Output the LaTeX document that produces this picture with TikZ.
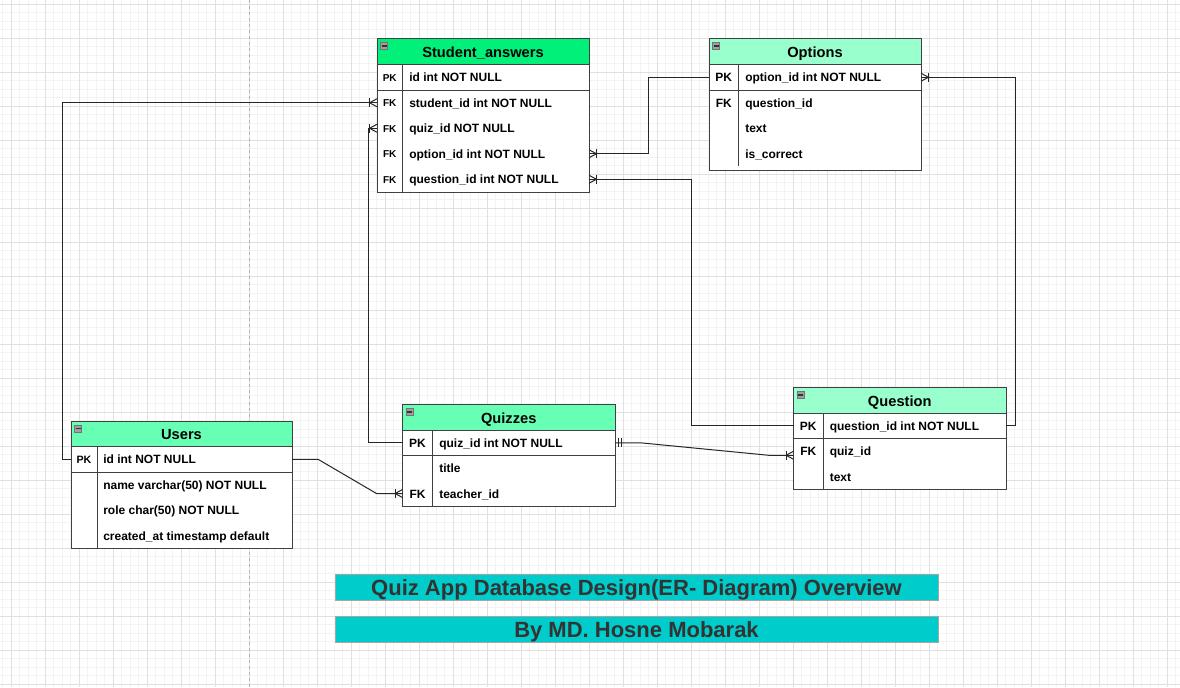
\documentclass[tikz,border=0pt]{standalone}
\usepackage{fontspec}
\setmainfont{Liberation Sans}
\usetikzlibrary{calc}
\newlength\px \setlength\px{0.75pt}
\definecolor{hdrA}{HTML}{00F07A}
\definecolor{hdrB}{HTML}{66FFB3}
\definecolor{hdrC}{HTML}{99FFCC}
\definecolor{bannerfill}{HTML}{00CCCC}
\definecolor{ink}{HTML}{333333}
\definecolor{gridminor}{HTML}{F3F3F3}
\definecolor{gridmajor}{HTML}{E0E0E0}
\definecolor{icongray}{HTML}{A0A0A0}
\tikzset{
  tframe/.style={draw=black!75, line width=0.75pt, fill=white, inner sep=0pt, outer sep=0pt, anchor=north west},
  thead/.style={draw=black!75, line width=0.75pt, inner sep=0pt, outer sep=0pt, anchor=north west,
    font=\fontsize{11}{13}\selectfont\bfseries, text=black, text height=12\px, text depth=0pt},
  trow/.style={inner sep=0pt, outer sep=0pt, anchor=west, minimum height=25.5\px},
  ftxt/.style={anchor=west, inner sep=0pt, font=\fontsize{9}{10}\selectfont\bfseries, text height=9\px, text depth=0pt},
  ktxt/.style={inner sep=0pt, font=\fontsize{9}{10}\selectfont\bfseries, text height=9\px, text depth=0pt},
  ksmall/.style={inner sep=0pt, font=\fontsize{7.5}{9}\selectfont\bfseries, text height=7.5\px, text depth=0pt},
  kmid/.style={inner sep=0pt, font=\fontsize{8}{9}\selectfont\bfseries, text height=8\px, text depth=0pt},
  tline/.style={draw=black!75, line width=0.75pt},
  conn/.style={draw=black!85, line width=0.75pt},
  bannerbox/.style={fill=bannerfill, draw=black!35, line width=0.75pt, inner sep=0pt, minimum width=603\px,
    font=\fontsize{16.5}{18}\selectfont\bfseries, text=ink, text height=16\px, text depth=0pt},
  minusicon/.pic={\filldraw[fill=icongray, draw=black!55, line width=0.45pt] (0,0) rectangle (7,7);
    \draw[black!80, line width=1.1pt] (1,3.5) -- (6,3.5);},
  crowin/.pic={\draw[conn] (-7.5,0) -- (0,-4) (-7.5,0) -- (0,4); \draw[conn] (-7.5,-4.5) -- (-7.5,4.5);},
  mandone/.pic={\draw[conn] (3,-4.5) -- (3,4.5) (6.5,-4.5) -- (6.5,4.5);}
}
\begin{document}
\begin{tikzpicture}[x=0.75pt,y=-0.75pt]
\useasboundingbox (0,0) rectangle (1180,687);
\fill[white] (0,0) rectangle (1180,687);
% grid
\foreach \i in {0,...,138} {\draw[gridminor, line width=0.6pt] ({2.5+8.5*\i},0) -- ++(0,687);}
\foreach \i in {0,...,80} {\draw[gridminor, line width=0.6pt] (0,{4+8.5*\i}) -- ++(1180,0);}
\foreach \i in {0,...,34} {\draw[gridmajor, line width=0.6pt] ({11+34*\i},0) -- ++(0,687);}
\foreach \i in {0,...,20} {\draw[gridmajor, line width=0.6pt] (0,{4+34*\i}) -- ++(1180,0);}
\draw[black!30, line width=0.75pt, dash pattern=on 3\px off 3\px] (249,0) -- (249,687);

% ---------- Student_answers ----------
\node[tframe, minimum width=212\px, minimum height=153.5\px] (sa) at (377,38.5) {};
\node[thead, fill=hdrA, minimum width=212\px, minimum height=26\px] (saH) at (sa.north west) {Student\_answers};
\pic at ($(saH.north west)+(3.5,4)$) {minusicon};
\draw[tline] (402.5,64.5) -- (402.5,192);
\draw[tline] (377,90) -- (589,90);
\node[trow, minimum width=212\px] (saR1) at (377,77.25) {};
\node[trow, minimum width=212\px] (saR2) at (377,102.75) {};
\node[trow, minimum width=212\px] (saR3) at (377,128.25) {};
\node[trow, minimum width=212\px] (saR4) at (377,153.75) {};
\node[trow, minimum width=212\px] (saR5) at (377,179.25) {};
\node[ksmall] (saK1) at (389.75,77.25) {PK};
\node[ksmall] (saK2) at (389.75,102.75) {FK};
\node[ksmall] (saK3) at (389.75,128.25) {FK};
\node[ksmall] (saK4) at (389.75,153.75) {FK};
\node[ksmall] (saK5) at (389.75,179.25) {FK};
\node[ftxt] (saF1) at (409,77.25) {id int NOT NULL};
\node[ftxt] (saF2) at (409,102.75) {student\_id int NOT NULL};
\node[ftxt] (saF3) at (409,128.25) {quiz\_id NOT NULL};
\node[ftxt] (saF4) at (409,153.75) {option\_id int NOT NULL};
\node[ftxt] (saF5) at (409,179.25) {question\_id int NOT NULL};

% ---------- Options ----------
\node[tframe, minimum width=212\px, minimum height=131.5\px] (op) at (709,38.5) {};
\node[thead, fill=hdrC, minimum width=212\px, minimum height=26\px] (opH) at (op.north west) {Options};
\pic at ($(opH.north west)+(3.5,4)$) {minusicon};
\draw[tline] (738.5,64.5) -- (738.5,166);
\draw[tline] (709,90) -- (921,90);
\node[trow, minimum width=212\px] (opR1) at (709,77.25) {};
\node[trow, minimum width=212\px] (opR2) at (709,102.75) {};
\node[trow, minimum width=212\px] (opR3) at (709,128.25) {};
\node[trow, minimum width=212\px] (opR4) at (709,153.75) {};
\node[ktxt] (opK1) at (723.75,77.25) {PK};
\node[ktxt] (opK2) at (723.75,102.75) {FK};
\node[ftxt] (opF1) at (745,77.25) {option\_id int NOT NULL};
\node[ftxt] (opF2) at (745,102.75) {question\_id};
\node[ftxt] (opF3) at (745,128.25) {text};
\node[ftxt] (opF4) at (745,153.75) {is\_correct};

% ---------- Users ----------
\node[tframe, minimum width=221\px, minimum height=127.5\px] (us) at (71,421) {};
\node[thead, fill=hdrB, minimum width=221\px, minimum height=25.5\px] (usH) at (us.north west) {Users};
\pic at ($(usH.north west)+(3.5,4)$) {minusicon};
\draw[tline] (97,446.5) -- (97,548.5);
\draw[tline] (71,472) -- (292,472);
\node[trow, minimum width=221\px] (usR1) at (71,459.25) {};
\node[trow, minimum width=221\px] (usR2) at (71,484.75) {};
\node[trow, minimum width=221\px] (usR3) at (71,510.25) {};
\node[trow, minimum width=221\px] (usR4) at (71,535.75) {};
\node[kmid] (usK1) at (84,459.25) {PK};
\node[ftxt] (usF1) at (103,459.25) {id int NOT NULL};
\node[ftxt] (usF2) at (103,484.75) {name varchar(50) NOT NULL};
\node[ftxt] (usF3) at (103,510.25) {role char(50) NOT NULL};
\node[ftxt] (usF4) at (103,535.75) {created\_at timestamp default};

% ---------- Quizzes ----------
\node[tframe, minimum width=212.5\px, minimum height=101.5\px] (qz) at (402.5,404.5) {};
\node[thead, fill=hdrB, minimum width=212.5\px, minimum height=25.5\px] (qzH) at (qz.north west) {Quizzes};
\pic at ($(qzH.north west)+(3.5,4)$) {minusicon};
\draw[tline] (432.5,430) -- (432.5,506);
\draw[tline] (402.5,455.5) -- (615,455.5);
\node[trow, minimum width=212.5\px] (qzR1) at (402.5,442.75) {};
\node[trow, minimum width=212.5\px] (qzR2) at (402.5,468.25) {};
\node[trow, minimum width=212.5\px] (qzR3) at (402.5,493.5) {};
\node[ktxt] (qzK1) at (417.5,442.75) {PK};
\node[ktxt] (qzK3) at (417.5,493.5) {FK};
\node[ftxt] (qzF1) at (439,442.75) {quiz\_id int NOT NULL};
\node[ftxt] (qzF2) at (439,468.25) {title};
\node[ftxt] (qzF3) at (439,493.5) {teacher\_id};

% ---------- Question ----------
\node[tframe, minimum width=212.5\px, minimum height=101.5\px] (qn) at (793.5,387.5) {};
\node[thead, fill=hdrC, minimum width=212.5\px, minimum height=25.5\px] (qnH) at (qn.north west) {Question};
\pic at ($(qnH.north west)+(3.5,4)$) {minusicon};
\draw[tline] (823,413) -- (823,489);
\draw[tline] (793.5,438.5) -- (1006,438.5);
\node[trow, minimum width=212.5\px] (qnR1) at (793.5,425.75) {};
\node[trow, minimum width=212.5\px] (qnR2) at (793.5,451.25) {};
\node[trow, minimum width=212.5\px] (qnR3) at (793.5,476.5) {};
\node[ktxt] (qnK1) at (808.25,425.75) {PK};
\node[ktxt] (qnK2) at (808.25,451.25) {FK};
\node[ftxt] (qnF1) at (829.5,425.75) {question\_id int NOT NULL};
\node[ftxt] (qnF2) at (829.5,451.25) {quiz\_id};
\node[ftxt] (qnF3) at (829.5,476.5) {text};

% ---------- connectors ----------
\draw[conn] (usR1.west) -- ++(-8.5,0) |- (saR2.west);
\pic at (saR2.west) {crowin};
\draw[conn] (qzR1.west) -- ++(-34,0) |- (saR3.west);
\pic at (saR3.west) {crowin};
\draw[conn] (opR1.west) -- ++(-61,0) |- (saR4.east);
\pic[rotate=180] at (saR4.east) {crowin};
\draw[conn] (qnR1.west) -- ++(-102.5,0) |- (saR5.east);
\pic[rotate=180] at (saR5.east) {crowin};
\draw[conn] (qnR1.east) -- ++(9,0) |- (opR1.east);
\pic[rotate=180] at (opR1.east) {crowin};
\draw[conn] (usR1.east) -- ++(26,0) -- ($(qzR3.west)+(-26,0)$) -- (qzR3.west);
\pic at (qzR3.west) {crowin};
\coordinate (qnIn) at ($(qnR2.west)+(0,4)$);
\draw[conn] (qzR1.east) -- ++(25,0) -- ($(qnIn)+(-25,0)$) -- (qnIn);
\pic at (qzR1.east) {mandone};
\pic at (qnIn) {crowin};

% ---------- banners ----------
\node[bannerbox, minimum height=26\px] (title) at (636.5,587) {Quiz App Database Design(ER- Diagram) Overview};
\node[bannerbox, minimum height=25.5\px] (author) at (636.5,629.5) {By MD. Hosne Mobarak};
\end{tikzpicture}
\end{document}
